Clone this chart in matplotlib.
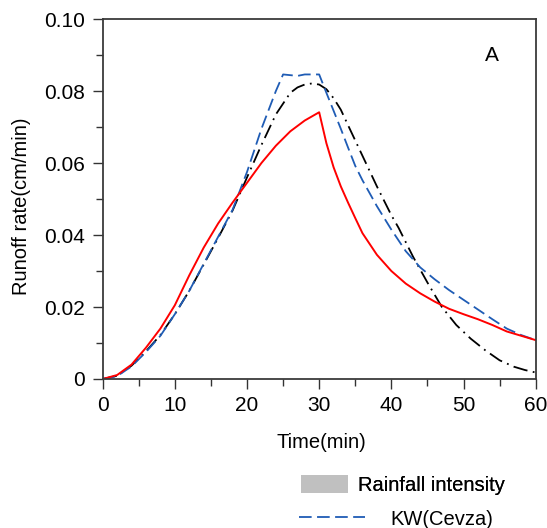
import matplotlib
matplotlib.use("Agg")
import matplotlib.pyplot as plt
from matplotlib.lines import Line2D
from matplotlib.patches import Patch
from matplotlib.ticker import MultipleLocator, FixedFormatter, FixedLocator

plt.rcParams.update({"font.family": ["Liberation Sans", "DejaVu Sans"], "font.size": 14.5})

RED, BLUE, BLACK, GREY = "#ff0000", "#1f5cb5", "#000000", "#c0c0c0"

# ---- data ----
t_red = [0, 2, 4, 6, 8, 10, 12, 14, 16, 18, 20, 22, 24, 26, 28, 30,
         31, 32, 33, 34, 35, 36, 38, 40, 42, 44, 46, 48, 50, 52, 54, 56, 58, 60]
v_red = [0, 0.0011, 0.0040, 0.0087, 0.0140, 0.0205, 0.0288, 0.0365, 0.0432, 0.0490,
         0.0545, 0.0600, 0.0648, 0.0688, 0.0718, 0.0741,
         0.0655, 0.0588, 0.0535, 0.0490, 0.0447, 0.0405, 0.0345, 0.0300, 0.0265,
         0.0238, 0.0215, 0.0195, 0.0180, 0.0166, 0.0150, 0.0132, 0.0120, 0.0108]

t_kw = [0, 2, 4, 6, 8, 10, 12, 14, 16, 18, 20, 22, 24, 25, 27, 28, 30,
        31, 32, 33, 34, 35, 36, 37, 38, 40, 42, 44, 46, 48, 50, 52, 54, 56, 58, 60]
v_kw = [0, 0.0008, 0.0035, 0.0075, 0.0120, 0.0180, 0.0245, 0.0320, 0.0395, 0.0470,
        0.0575, 0.0695, 0.0800, 0.0846, 0.0842, 0.0846, 0.0846,
        0.0795, 0.0745, 0.0695, 0.0643, 0.0592, 0.0552, 0.0516, 0.0480, 0.0415,
        0.0355, 0.0310, 0.0277, 0.0247, 0.0220, 0.0193, 0.0166, 0.0140, 0.0122, 0.0108]

t_obs = [0, 2, 4, 6, 8, 10, 12, 14, 16, 18, 20, 22, 24, 26, 27, 28, 29, 30,
         31, 32, 33, 34, 36, 38, 40, 41, 43, 45, 47, 49, 51, 53, 55, 57, 58.5, 60]
v_obs = [0, 0.0009, 0.0037, 0.0077, 0.0122, 0.0180, 0.0245, 0.0318, 0.0392, 0.0468,
         0.0560, 0.0650, 0.0735, 0.0795, 0.0810, 0.0818, 0.0821, 0.0818,
         0.0805, 0.0780, 0.0748, 0.0705, 0.0620, 0.0535, 0.0455, 0.0420, 0.0340,
         0.0268, 0.0200, 0.0150, 0.0112, 0.0080, 0.0052, 0.0034, 0.0025, 0.0018]

xticks = [0, 10, 20, 30, 40, 50, 60]
yticks = [0, 0.02, 0.04, 0.06, 0.08, 0.10]
ytick_labels = ["0", "0.02", "0.04", "0.06", "0.08", "0.10"]

fig = plt.figure(figsize=(5.47, 5.28), dpi=100)
ax = fig.add_axes([0.1877, 0.2822, 0.7916, 0.6818])

ax.plot(t_obs, v_obs, color=BLACK, lw=1.3, dashes=(8, 3, 1, 3))
ax.plot(t_kw, v_kw, color=BLUE, lw=1.3, dashes=(7, 3))
ax.plot(t_red, v_red, color=RED, lw=1.4)

ax.set_xlim(0, 60); ax.set_ylim(0, 0.10)
ax.xaxis.set_major_locator(FixedLocator(xticks))
ax.xaxis.set_minor_locator(MultipleLocator(5))
ax.yaxis.set_major_locator(FixedLocator(yticks))
ax.yaxis.set_major_formatter(FixedFormatter(ytick_labels))
ax.yaxis.set_minor_locator(MultipleLocator(0.01))
ax.tick_params(which="major", direction="out", length=7.5, width=1.0, pad=5,
               color="#333333", labelsize=15)
ax.tick_params(which="minor", direction="out", length=5, width=1.0, color="#333333")
for s in ax.spines.values():
    s.set_linewidth(1.3); s.set_color("#3a3a3a")

ax.set_xlabel("Time(min)")
ax.set_ylabel("Runoff rate(cm/min)")
ax.xaxis.set_label_coords(0.506, -0.15)
ax.yaxis.set_label_coords(-0.165, 0.48)
ax.text(54, 0.09, "A", ha="center", va="center", fontsize=15)

leg1 = fig.legend(handles=[Patch(facecolor=GREY, edgecolor="none")], labels=["Rainfall intensity"],
                  loc="center left", bbox_to_anchor=(0.5497, 0.0814), frameon=False, borderpad=0,
                  borderaxespad=0, handlelength=2.34, handleheight=0.95, handletextpad=0.53)
fig.add_artist(leg1)
fig.legend(handles=[Line2D([], [], color=BLUE, lw=1.3, dashes=(7, 3))], labels=["KW(Cevza)"],
           loc="center left", bbox_to_anchor=(0.5466, 0.017), frameon=False, borderpad=0,
           borderaxespad=0, handlelength=3.28, handletextpad=1.24)

fig.savefig("out.png", dpi=100)
